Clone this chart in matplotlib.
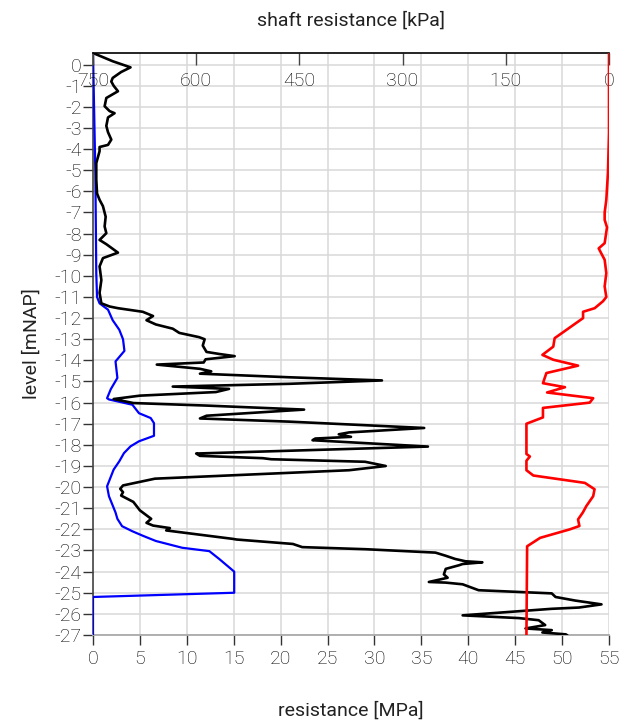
import matplotlib
matplotlib.use("Agg")
import matplotlib.pyplot as plt
from matplotlib.ticker import FixedLocator

# ---------------- data ----------------
qc_level = [0.55, 0.16, -0.13, -0.35, -0.63, -0.8, -1.0, -1.26, -1.58, -1.97, -2.2, -2.3, -2.5,
            -2.9, -3.2, -3.55, -3.8, -3.9, -4.1, -4.66, -5.45, -6.1, -6.4, -6.7, -7.2, -7.66,
            -7.98, -8.3, -8.5, -8.9, -9.16, -9.55, -10.2, -10.8, -11.3, -11.45, -11.53, -11.7,
            -11.9, -12.1, -12.3, -12.5, -12.7, -12.9, -13.0, -13.3, -13.6, -13.7, -13.8, -13.95,
            -14.1, -14.2, -14.4, -14.52, -14.63, -14.8, -14.95, -15.11, -15.24, -15.35, -15.5,
            -15.67, -15.83, -16.02, -16.14, -16.33, -16.62, -16.75, -16.9, -17.2, -17.41, -17.5,
            -17.62, -17.7, -17.78, -18.08, -18.41, -18.52, -18.63, -18.68, -18.8, -19.0, -19.16,
            -19.2, -19.6, -19.92, -20.08, -20.24, -20.4, -20.7, -20.87, -21.1, -21.5, -21.69,
            -21.82, -21.94, -22.05, -22.45, -22.48, -22.69, -22.84, -22.94, -23.1, -23.25, -23.4,
            -23.51, -23.56, -23.64, -23.7, -23.87, -24.13, -24.29, -24.49, -24.52, -24.6, -24.88,
            -25.03, -25.2, -25.37, -25.55, -25.7, -25.76, -26.07, -26.2, -26.3, -26.53, -26.69,
            -26.77, -26.88, -26.97, -27.0]
qc_mpa = [0.0, 2.1, 4.0, 3.0, 2.1, 1.95, 2.2, 2.66, 1.42, 1.24, 1.77, 2.3, 1.6,
          1.42, 1.6, 1.95, 1.6, 0.7, 0.7, 0.35, 0.35, 0.43, 0.7, 1.06, 1.35, 1.24,
          1.42, 0.7, 1.42, 2.66, 1.06, 0.7, 0.89, 0.7, 0.89, 1.77, 2.66, 5.3,
          6.4, 5.7, 6.7, 8.5, 9.2, 11.3, 11.9, 11.7, 12.1, 13.5, 15.1, 12.0,
          11.8, 6.8, 11.4, 12.6, 11.4, 20.9, 30.8, 20.9, 8.5, 14.5, 13.1,
          5.0, 2.2, 4.3, 12.1, 22.5, 12.1, 11.4, 20.9, 35.3, 27.3, 26.2,
          27.5, 23.7, 23.4, 35.7, 11.0, 11.4, 18.1, 19.0, 29.0, 31.2, 28.0,
          27.3, 6.6, 3.2, 2.9, 3.2, 3.0, 4.3, 4.6, 5.0, 6.2, 5.7,
          6.4, 8.2, 7.8, 14.9, 15.3, 21.3, 22.3, 29.1, 36.5, 37.6, 38.6,
          39.7, 41.5, 39.4, 39.0, 37.6, 37.4, 37.8, 35.8, 37.6, 39.4, 41.1,
          48.9, 49.3, 51.4, 54.2, 51.8, 48.9, 39.4, 45.4, 47.5, 48.2, 46.1,
          48.9, 47.9, 50.4, 50.5]

pile_level = [0.55, -5.1, -9.9, -11.0, -11.3, -11.6, -12.1, -12.55, -13.0, -13.55, -14.05,
              -14.83, -15.36, -15.79, -15.85, -16.1, -16.5, -16.73, -16.97, -17.57, -17.83,
              -18.07, -18.39, -18.78, -19.17, -19.96, -20.43, -21.2, -21.5, -21.85, -22.09,
              -22.3, -22.55, -22.87, -23.03, -23.4, -24.0, -25.0, -25.2, -27.0]
pile_mpa = [0.0, 0.25, 0.35, 0.43, 0.7, 1.6, 2.1, 2.8, 3.2, 3.35, 2.4,
            2.6, 1.9, 1.5, 1.7, 4.2, 4.9, 6.15, 6.5, 6.5, 4.9,
            4.0, 3.3, 2.8, 2.2, 1.5, 1.7, 2.4, 2.6, 3.1, 4.2,
            5.3, 6.7, 9.5, 12.4, 13.45, 15.05, 15.05, 0.0, 0.0]

shaft_level = [0.55, -3.24, -5.1, -6.4, -7.0, -7.35, -7.7, -8.45, -8.7, -9.24, -9.87, -10.5,
               -11.0, -11.2, -11.53, -11.7, -12.0, -12.95, -13.35, -13.74, -13.97, -14.25,
               -14.6, -15.08, -15.27, -15.52, -15.79, -16.0, -16.25, -16.7, -17.0, -18.43,
               -18.55, -18.75, -19.2, -19.45, -19.8, -20.1, -20.43, -20.9, -21.2, -21.53,
               -21.84, -22.0, -22.4, -22.8, -27.0]
shaft_kpa = [0, 0, 1.5, 3.9, 6.3, 6.3, 2.9, 6.3, 15, 6.3, 3.9, 6.3,
             3.9, 8.7, 20.8, 37.7, 37.7, 79, 81, 96.8, 81, 45,
             91, 96, 64, 90, 23, 28, 96, 96, 120, 120,
             115, 120, 120, 110, 35, 21, 23, 33, 38, 45,
             43, 57, 100, 119, 120]

x_ticks = [0, 5, 10, 15, 20, 25, 30, 35, 40, 45, 50, 55]
top_ticks = [750, 600, 450, 300, 150, 0]
y_ticks = list(range(0, -28, -1))
y_ticklabels = [str(v) if v == 0 else "-" + str(-v) for v in y_ticks]

# ---------------- style ----------------
plt.rcParams['font.family'] = ['Roboto', 'DejaVu Sans']
plt.rcParams['font.weight'] = 'light'
txt = '#222222'
tick_txt = '#000000'
fs = 14

fig = plt.figure(figsize=(6.22, 7.23), dpi=100)
ax = fig.add_axes([93/622, 1-635/723, 516/622, 582/723])

ax.plot(pile_mpa, pile_level, color='#0000ff', lw=1.6, zorder=3)
ax.plot(qc_mpa, qc_level, color='black', lw=1.9, zorder=4)

ax.set_xlim(0, 55)
ax.set_ylim(-27, 0.55)
ax.xaxis.set_major_locator(FixedLocator(x_ticks))
ax.yaxis.set_major_locator(FixedLocator(y_ticks))
ax.set_yticklabels(y_ticklabels)
ax.grid(True, color='#d9d9d9', lw=1.1, zorder=0)
ax.set_axisbelow(True)

ax.tick_params(axis='x', direction='out', length=7.5, width=1, color='#333333',
               labelsize=fs, labelcolor=tick_txt, pad=3)
ax.tick_params(axis='y', direction='out', length=7, width=1, color='#333333',
               labelsize=fs, labelcolor=tick_txt, pad=1)
for s in ['top', 'right']:
    ax.spines[s].set_visible(False)
ax.spines['bottom'].set_color('#aaaaaa')
ax.spines['bottom'].set_linewidth(1.3)
ax.spines['left'].set_color('#444444')
ax.spines['left'].set_linewidth(1.2)

ax.set_xlabel('resistance [MPa]', fontsize=fs, color=txt, labelpad=24)
ax.set_ylabel('level [mNAP]', fontsize=fs, color=txt, labelpad=10)

ax2 = ax.twiny()
ax2.plot(shaft_kpa, shaft_level, color='#ff0000', lw=1.9, zorder=5)
ax2.set_xlim(750, 0)
ax2.xaxis.set_major_locator(FixedLocator(top_ticks))
ax2.tick_params(axis='x', direction='in', length=8.5, width=1, color='#444444',
                labelsize=fs, labelcolor=tick_txt, pad=-27)
for s in ['bottom', 'left', 'right']:
    ax2.spines[s].set_visible(False)
ax2.spines['top'].set_color('black')
ax2.spines['top'].set_linewidth(1.2)
ax2.set_xlabel('shaft resistance [kPa]', fontsize=fs, color=txt, labelpad=20)

fig.savefig('out.png', dpi=100)
